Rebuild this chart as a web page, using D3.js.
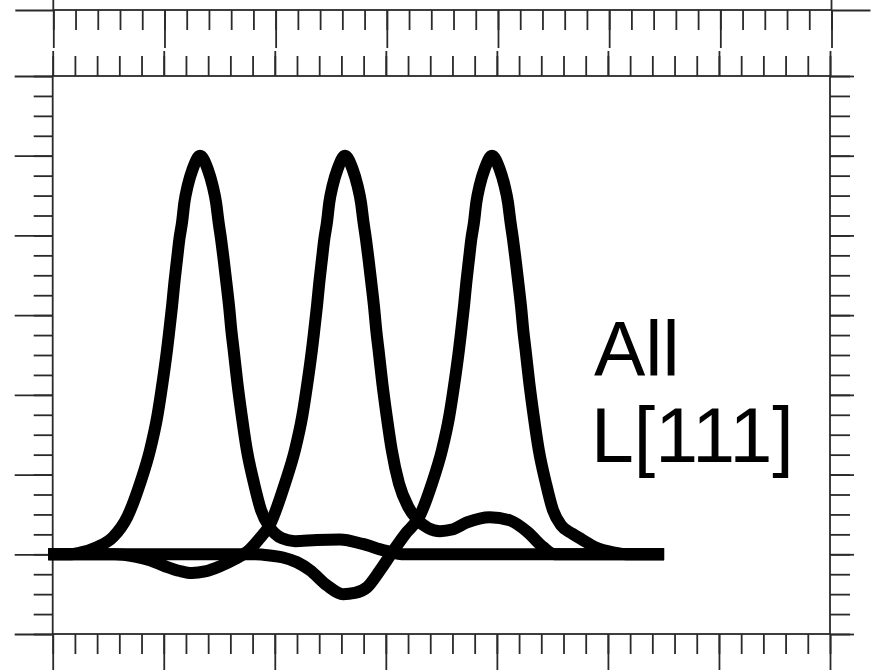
<!DOCTYPE html>
<html>
<head>
<meta charset="utf-8">
<script src="https://cdn.jsdelivr.net/npm/d3@7/dist/d3.min.js"></script>
<style>
    html, body { margin: 0; padding: 0; background: #fff; }
    svg { display: block; }
    .frame line, .frame rect { stroke: #2a2a2a; stroke-width: 1.8; fill: none; }
    .profile { fill: none; stroke: #000; stroke-width: 12; stroke-linejoin: round; }
    .label { font-family: "Liberation Sans", Arial, sans-serif; font-size: 77px; fill: #000; }
</style>
</head>
<body>
<div class="profile-chart"></div>
<script>
// axis domains (7 major x steps, y from -0.2 to 1.2)
const xDomain = [0, 7];
const yDomain = [-0.2, 1.2];

// profiles, [x, y]
const profileA = [
    [-0.04, 0], [0.15, 0], [0.246, 0.004], [0.399, 0.018], [0.546, 0.044], [0.672, 0.094],
    [0.787, 0.178], [0.877, 0.262], [0.942, 0.346], [0.989, 0.43], [1.030, 0.514],
    [1.048, 0.556], [1.075, 0.623], [1.096, 0.682], [1.120, 0.741], [1.141, 0.791],
    [1.165, 0.833], [1.186, 0.883], [1.216, 0.925], [1.261, 0.967], [1.327, 1.0],
    [1.395, 0.967], [1.440, 0.925], [1.471, 0.883], [1.494, 0.833], [1.516, 0.791],
    [1.539, 0.741], [1.564, 0.682], [1.588, 0.623], [1.611, 0.556], [1.629, 0.514],
    [1.663, 0.43], [1.703, 0.346], [1.748, 0.262], [1.813, 0.178], [1.876, 0.111],
    [1.951, 0.069], [2.065, 0.040], [2.182, 0.033], [2.380, 0.036], [2.587, 0.037],
    [2.790, 0.026], [2.993, 0.009], [3.173, 0], [5.506, 0]
];
const profileB = [
    [-0.04, 0], [0.561, 0], [0.741, -0.006], [0.876, -0.015], [1.012, -0.03], [1.147, -0.042],
    [1.254, -0.047], [1.372, -0.043], [1.507, -0.03], [1.642, -0.012], [1.759, 0.008],
    [1.849, 0.035], [1.957, 0.075], [2.092, 0.178], [2.182, 0.262], [2.247, 0.346],
    [2.294, 0.43], [2.335, 0.514], [2.353, 0.556], [2.380, 0.623], [2.401, 0.682],
    [2.425, 0.741], [2.446, 0.791], [2.470, 0.833], [2.491, 0.883], [2.521, 0.925],
    [2.566, 0.967], [2.632, 1.0], [2.700, 0.967], [2.745, 0.925], [2.776, 0.883],
    [2.799, 0.833], [2.821, 0.791], [2.844, 0.741], [2.869, 0.682], [2.893, 0.623],
    [2.916, 0.556], [2.934, 0.514], [2.968, 0.43], [3.008, 0.346], [3.053, 0.262],
    [3.118, 0.178], [3.200, 0.12], [3.281, 0.088], [3.380, 0.066], [3.488, 0.058],
    [3.596, 0.062], [3.731, 0.080], [3.938, 0.093], [4.118, 0.085], [4.280, 0.055],
    [4.416, 0.018], [4.524, 0], [5.506, 0]
];
const profileC = [
    [-0.04, 0], [1.822, 0], [1.957, -0.003], [2.074, -0.008], [2.200, -0.02], [2.317, -0.04],
    [2.470, -0.078], [2.614, -0.1], [2.722, -0.097], [2.830, -0.083], [2.948, -0.04],
    [3.065, 0.008], [3.173, 0.05], [3.301, 0.094], [3.416, 0.178], [3.506, 0.262],
    [3.571, 0.346], [3.618, 0.43], [3.659, 0.514], [3.677, 0.556], [3.704, 0.623],
    [3.725, 0.682], [3.749, 0.741], [3.770, 0.791], [3.794, 0.833], [3.815, 0.883],
    [3.845, 0.925], [3.890, 0.967], [3.956, 1.0], [4.024, 0.967], [4.069, 0.925],
    [4.100, 0.883], [4.123, 0.833], [4.145, 0.791], [4.168, 0.741], [4.193, 0.682],
    [4.217, 0.623], [4.240, 0.556], [4.258, 0.514], [4.292, 0.43], [4.332, 0.346],
    [4.377, 0.262], [4.442, 0.178], [4.505, 0.111], [4.580, 0.072], [4.677, 0.052],
    [4.767, 0.037], [4.884, 0.018], [5.046, 0.005], [5.199, 0], [5.506, 0]
];

const labelLines = ['All', 'L[111]'];

const width = 874, height = 670;
const margin = { top: 76, right: 44, bottom: 36, left: 52.7 };

const svg = d3.select('.profile-chart').append('svg')
    .attr('width', width)
    .attr('height', height);

const x = d3.scaleLinear().domain(xDomain).range([margin.left, width - margin.right]);
const y = d3.scaleLinear().domain(yDomain).range([height - margin.bottom, margin.top]);

// strip of the panel above, only its bottom edge shows
const xUpper = d3.scaleLinear().domain(xDomain).range([53.3, 831.5]);
const yUpper = d3.scaleLinear().domain(yDomain).range([10, 10 - 558]);

const frame = svg.append('g').classed('frame', true);

function ticks(g, axis) {
    g.call(axis.tickFormat('').tickSizeOuter(0));
    g.select('.domain').remove();
}

// upper panel
frame.append('rect')
    .attr('x', xUpper.range()[0])
    .attr('y', -100)
    .attr('width', xUpper.range()[1] - xUpper.range()[0])
    .attr('height', 110);
frame.append('g').attr('transform', 'translate(0,10)')
    .call(ticks, d3.axisBottom(xUpper).ticks(35).tickSize(20));
frame.append('g').attr('transform', 'translate(0,10)')
    .call(ticks, d3.axisBottom(xUpper).ticks(7).tickSize(38));
frame.append('g').attr('transform', `translate(${xUpper.range()[0]},0)`)
    .call(ticks, d3.axisLeft(yUpper).tickValues([yDomain[0]]).tickSize(38));
frame.append('g').attr('transform', `translate(${xUpper.range()[1]},0)`)
    .call(ticks, d3.axisRight(yUpper).tickValues([yDomain[0]]).tickSize(39));

// main panel box
frame.append('rect')
    .attr('x', x.range()[0])
    .attr('y', y.range()[1])
    .attr('width', x.range()[1] - x.range()[0])
    .attr('height', y.range()[0] - y.range()[1]);

const bottom = height - margin.bottom;
const right = width - margin.right;

frame.append('g').attr('transform', `translate(0,${bottom})`)
    .call(ticks, d3.axisBottom(x).ticks(35).tickSize(20));
frame.append('g').attr('transform', `translate(0,${bottom})`)
    .call(ticks, d3.axisBottom(x).ticks(7).tickSize(40));
frame.append('g').attr('transform', `translate(0,${margin.top})`)
    .call(ticks, d3.axisTop(x).ticks(35).tickSize(20));
frame.append('g').attr('transform', `translate(0,${margin.top})`)
    .call(ticks, d3.axisTop(x).ticks(7).tickSize(25));
frame.append('g').attr('transform', `translate(${margin.left},0)`)
    .call(ticks, d3.axisLeft(y).ticks(28).tickSize(19));
frame.append('g').attr('transform', `translate(${margin.left},0)`)
    .call(ticks, d3.axisLeft(y).ticks(7).tickSize(38));
frame.append('g').attr('transform', `translate(${right},0)`)
    .call(ticks, d3.axisRight(y).ticks(28).tickSize(20));
frame.append('g').attr('transform', `translate(${right},0)`)
    .call(ticks, d3.axisRight(y).ticks(7).tickSize(24));

// profiles
const line = d3.line()
    .x(d => x(d[0]))
    .y(d => y(d[1]))
    .curve(d3.curveMonotoneX);

svg.append('g')
    .selectAll('.profile')
    .data([profileA, profileB, profileC])
    .join('path')
    .classed('profile', true)
    .attr('d', line);

// label
svg.append('text')
    .classed('label', true)
    .selectAll('tspan')
    .data(labelLines)
    .join('tspan')
    .attr('x', (d, i) => i === 0 ? 594 : 591)
    .attr('y', (d, i) => 376 + i * 86)
    .text(d => d);
</script>
</body>
</html>
